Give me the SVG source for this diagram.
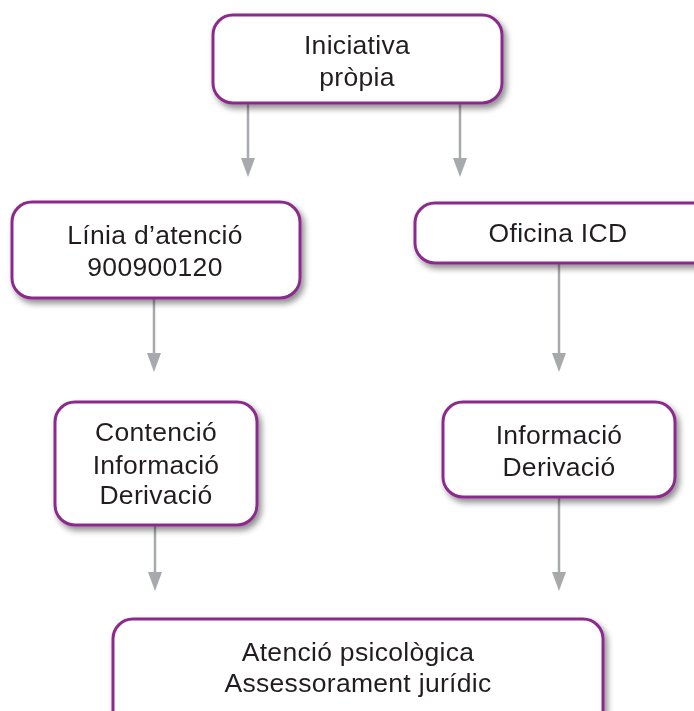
<svg xmlns="http://www.w3.org/2000/svg" width="694" height="711" viewBox="0 0 694 711">
<style>
.box{fill:#ffffff;stroke:#8b2c8c;stroke-width:3}
.lbl{font-family:"Liberation Sans",Arial,sans-serif;font-size:26.5px;letter-spacing:0.3px;fill:#231f20;text-anchor:middle}
.conn{stroke:#a7a9ac;stroke-width:2.5;fill:none}
.head{fill:#a7a9ac}
</style>
<defs>
<filter id="sh" x="-10%" y="-20%" width="130%" height="150%">
<feGaussianBlur in="SourceAlpha" stdDeviation="3"/>
<feOffset dx="3" dy="4" result="b"/>
<feComponentTransfer><feFuncA type="linear" slope="0.45"/></feComponentTransfer>
<feMerge><feMergeNode/><feMergeNode in="SourceGraphic"/></feMerge>
</filter>
</defs>
<rect width="694" height="711" fill="#ffffff"/>
<g id="connectors">
<line class="conn" x1="248" y1="104" x2="248" y2="160"/>
<polygon class="head" points="241,158 255,158 248,177"/>
<line class="conn" x1="460" y1="104" x2="460" y2="160"/>
<polygon class="head" points="453,158 467,158 460,177"/>
<line class="conn" x1="154" y1="298" x2="154" y2="355"/>
<polygon class="head" points="147,353 161,353 154,372"/>
<line class="conn" x1="559" y1="263" x2="559" y2="355"/>
<polygon class="head" points="552,353 566,353 559,372"/>
<line class="conn" x1="155" y1="525" x2="155" y2="574"/>
<polygon class="head" points="148,572 162,572 155,591"/>
<line class="conn" x1="559" y1="497" x2="559" y2="574"/>
<polygon class="head" points="552,572 566,572 559,591"/>
</g>
<g id="n-iniciativa" filter="url(#sh)">
<rect class="box" x="213" y="15" width="289" height="88" rx="20"/>
<text class="lbl" x="357" y="54">Iniciativa</text>
<text class="lbl" x="357" y="86">pròpia</text>
</g>
<g id="n-linia" filter="url(#sh)">
<rect class="box" x="12" y="202" width="288" height="96" rx="20"/>
<text class="lbl" x="155" y="244">Línia d’atenció</text>
<text class="lbl" x="155" y="276">900900120</text>
</g>
<g id="n-oficina" filter="url(#sh)">
<rect class="box" x="415" y="203" width="300" height="60" rx="20"/>
<text class="lbl" x="558" y="242">Oficina ICD</text>
</g>
<g id="n-contencio" filter="url(#sh)">
<rect class="box" x="55" y="402" width="202" height="123" rx="20"/>
<text class="lbl" x="156" y="441">Contenció</text>
<text class="lbl" x="156" y="474">Informació</text>
<text class="lbl" x="156" y="504">Derivació</text>
</g>
<g id="n-informacio" filter="url(#sh)">
<rect class="box" x="443" y="402" width="232" height="95" rx="20"/>
<text class="lbl" x="559" y="444">Informació</text>
<text class="lbl" x="559" y="476">Derivació</text>
</g>
<g id="n-atencio" filter="url(#sh)">
<rect class="box" x="113" y="619" width="490" height="120" rx="20"/>
<text class="lbl" x="358" y="661">Atenció psicològica</text>
<text class="lbl" x="358" y="692">Assessorament jurídic</text>
</g>
</svg>
